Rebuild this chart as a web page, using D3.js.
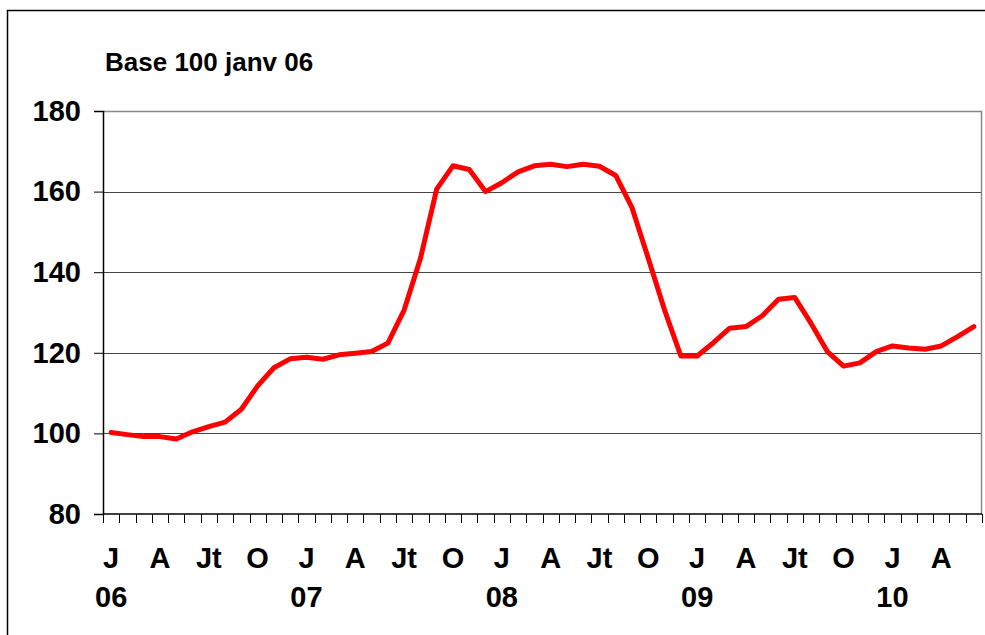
<!DOCTYPE html>
<html>
<head>
<meta charset="utf-8">
<script src="https://cdn.jsdelivr.net/npm/d3@7"></script>
<style>
    body { margin: 0; background: #fff; }
    svg { display: block; font-family: "Liberation Sans", Arial, sans-serif; font-weight: bold; }
</style>
</head>
<body>
<div class="chart"></div>
<script>
// monthly index, base 100 = janv 06 (Jan 2006 .. Jun 2010)
const months = ['J', 'F', 'M', 'A', 'M', 'Jn', 'Jt', 'A', 'S', 'O', 'N', 'D'];
const years = ['06', '07', '08', '09', '10'];
const values = [
    100.2, 99.7, 99.2, 99.2, 98.6, 100.4, 101.7, 102.8, 106.0, 111.8, 116.3, 118.5,
    118.9, 118.4, 119.5, 119.9, 120.3, 122.4, 130.6, 143.4, 160.6, 166.4, 165.5, 160.0,
    162.2, 164.9, 166.4, 166.8, 166.2, 166.8, 166.3, 164.0, 156.0, 143.4, 130.6, 119.2,
    119.2, 122.5, 126.1, 126.5, 129.2, 133.3, 133.7, 127.3, 120.3, 116.7, 117.5, 120.3,
    121.7, 121.2, 120.9, 121.7, 124.0, 126.5
];
const yTicks = [80, 100, 120, 140, 160, 180];
const shownMonths = ['J', 'A', 'Jt', 'O'];

const data = values.map((v, i) => ({
    key: i,
    month: months[i % 12],
    year: years[Math.floor(i / 12)],
    first: i % 12 === 0,
    value: v
}));

const margin = { top: 111, right: 3, bottom: 121, left: 103 },
    width = 985 - margin.left - margin.right,
    height = 635 - margin.top - margin.bottom;

const svg = d3.select('.chart')
    .append('svg')
    .attr('width', 985)
    .attr('height', 635);

// outer frame (only top and left edges are inside the picture)
svg.append('rect')
    .attr('x', 7.5).attr('y', 10.5)
    .attr('width', 1000).attr('height', 700)
    .attr('fill', 'none')
    .attr('stroke', '#000')
    .attr('stroke-width', 1.5);

svg.append('text')
    .attr('x', 105)
    .attr('y', 71)
    .attr('font-size', 26)
    .text('Base 100 janv 06');

const group = svg.append('g')
    .attr('transform', `translate(${margin.left},${margin.top})`);

const xScale = d3.scaleBand()
    .domain(data.map(d => d.key))
    .range([0, width]);

const yScale = d3.scaleLinear()
    .domain([80, 180])
    .range([height, 0]);

// grid lines
group.append('g')
    .selectAll('line')
    .data(yTicks.slice(1, -1))
    .join('line')
    .attr('x1', 0).attr('x2', width)
    .attr('y1', d => Math.round(yScale(d)) + 0.5)
    .attr('y2', d => Math.round(yScale(d)) + 0.5)
    .attr('stroke', '#444');

// plot border top + right
group.append('path')
    .attr('d', `M0,0.5H${width - 0.5}V${height}`)
    .attr('fill', 'none')
    .attr('stroke', '#888')
    .attr('stroke-width', 1.5);

// y axis
const yAxis = d3.axisLeft(yScale)
    .tickValues(yTicks)
    .tickSize(9)
    .tickPadding(13);

group.append('g')
    .attr('class', 'axis y-axis')
    .call(yAxis)
    .call(g => g.select('.domain').attr('stroke', '#000').attr('stroke-width', 1.5))
    .call(g => g.selectAll('.tick line').attr('stroke', '#000'))
    .call(g => g.selectAll('text')
        .attr('font-size', 29)
        .attr('font-family', '"Liberation Sans", Arial, sans-serif')
        .attr('font-weight', 'bold')
        .attr('fill', '#000'));

// x axis: ticks between categories
const bounds = d3.range(data.length + 1);
const xAxisG = group.append('g')
    .attr('class', 'axis x-axis')
    .attr('transform', `translate(0,${height})`);

xAxisG.append('line')
    .attr('x1', 0).attr('x2', width)
    .attr('y1', 0).attr('y2', 0)
    .attr('stroke', '#000')
    .attr('stroke-width', 1.5);

xAxisG.selectAll('.tick')
    .data(bounds)
    .join('line')
    .attr('class', 'tick')
    .attr('x1', i => Math.round(i * xScale.step()) + 0.5)
    .attr('x2', i => Math.round(i * xScale.step()) + 0.5)
    .attr('y1', 0).attr('y2', 9)
    .attr('stroke', '#000');

const labelled = data.filter((d, i) => shownMonths.includes(d.month) && [0, 3, 6, 9].includes(i % 12));

xAxisG.selectAll('.month')
    .data(labelled)
    .join('text')
    .attr('class', 'month')
    .attr('x', d => xScale(d.key) + xScale.bandwidth() / 2)
    .attr('y', 54)
    .attr('text-anchor', 'middle')
    .attr('font-size', 29)
    .text(d => d.month);

xAxisG.selectAll('.year')
    .data(data.filter(d => d.first))
    .join('text')
    .attr('class', 'year')
    .attr('x', d => xScale(d.key) + xScale.bandwidth() / 2)
    .attr('y', 93)
    .attr('text-anchor', 'middle')
    .attr('font-size', 29)
    .text(d => d.year);

// the series
const line = d3.line()
    .x(d => xScale(d.key) + xScale.bandwidth() / 2)
    .y(d => yScale(d.value));

group.append('path')
    .datum(data)
    .attr('d', line)
    .attr('fill', 'none')
    .attr('stroke', '#ff0000')
    .attr('stroke-width', 5)
    .attr('stroke-linejoin', 'round')
    .attr('stroke-linecap', 'round');
</script>
</body>
</html>
